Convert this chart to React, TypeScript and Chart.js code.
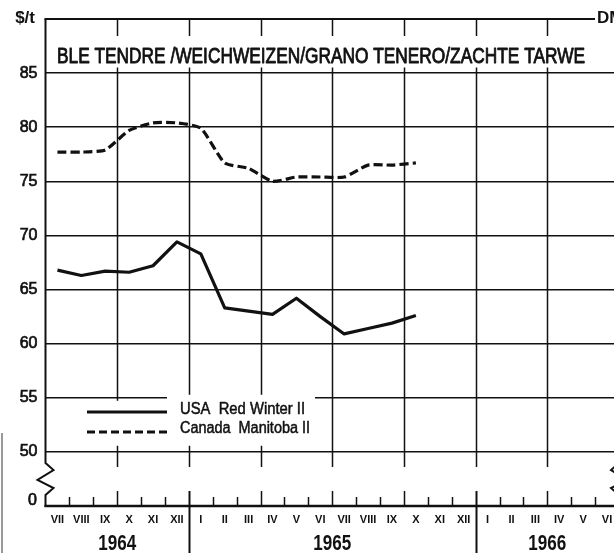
import { useEffect, useRef } from "react";
import { Chart, registerables } from "chart.js";

Chart.register(...registerables);

// Months from July 1964 to June 1966 (roman numerals as printed under the axis)
const months = [
  "VII", "VIII", "IX", "X", "XI", "XII",
  "I", "II", "III", "IV", "V", "VI", "VII", "VIII", "IX", "X", "XI", "XII",
  "I", "II", "III", "IV", "V", "VI",
];
const years = ["1964", "1965", "1966"];

// Monthly prices in $/t, July 1964 – October 1965
const usaRedWinter = [66.8, 66.3, 66.7, 66.6, 67.2, 69.4, 68.3, 63.3, 63.0, 62.7, 64.2, 62.5, 60.9, 61.4, 61.9, 62.6];
const canadaManitoba = [77.7, 77.7, 77.9, 79.7, 80.4, 80.4, 79.9, 76.7, 76.2, 75.0, 75.4, 75.4, 75.4, 76.5, 76.5, 76.7];

const yTicks = [50, 55, 60, 65, 70, 75, 80, 85];
const yBreakValue = 45; // the broken axis bottom stands for 0
const yTop = 90;

const title = "BLE TENDRE /WEICHWEIZEN/GRANO TENERO/ZACHTE TARWE";
const legendNames = ["USA  Red Winter II", "Canada  Manitoba II"];

const FONT = "'Liberation Sans', Arial, sans-serif";
const INK = "#111";

// text squeezed or stretched to a given width, with an optional outline to thicken strokes
function fitText(
  ctx: CanvasRenderingContext2D,
  text: string,
  x: number,
  baseline: number,
  width: number,
  font: string,
  align: "left" | "center" | "right",
  weight = 0
) {
  ctx.font = font;
  ctx.textAlign = "left";
  ctx.textBaseline = "alphabetic";
  const w = ctx.measureText(text).width;
  const s = width / w;
  const x0 = align === "left" ? x : align === "center" ? x - width / 2 : x - width;
  ctx.save();
  ctx.translate(x0, baseline);
  ctx.scale(s, 1);
  ctx.fillText(text, 0, 0);
  if (weight > 0) {
    ctx.lineWidth = weight;
    ctx.lineJoin = "round";
    ctx.strokeText(text, 0, 0);
  }
  ctx.restore();
}

const decor = {
  id: "decor",
  beforeDatasetsDraw(chart: any) {
    const { ctx, chartArea: a, scales } = chart;
    const x = scales.x;
    const y = scales.y;
    const L = a.left;
    const top = a.top;
    const axisY = y.getPixelForValue(yBreakValue);
    const y50 = y.getPixelForValue(50);
    const y55 = y.getPixelForValue(55);
    ctx.save();
    ctx.strokeStyle = INK;
    ctx.fillStyle = INK;

    // quarterly vertical grid lines, stopping just below the 50 line
    ctx.lineWidth = 1.5;
    for (let k = 3; k <= months.length; k += 3) {
      const px = Math.round(x.getPixelForValue(k)) + 0.5;
      ctx.beginPath();
      ctx.moveTo(px, top);
      ctx.lineTo(px, y50 + 15);
      ctx.stroke();
    }

    // white panels behind the title and the legend
    ctx.fillStyle = "#fff";
    ctx.fillRect(L + 1.5, 36, a.right - L, 31.5);
    ctx.fillRect(70, y55 + 3, 245, 45);
    ctx.fillRect(167, y55 - 3, 148, 7);
    ctx.fillStyle = INK;

    // title
    fitText(ctx, title, 57, 63, 528, `22px ${FONT}`, "left", 0.9);

    // top frame line
    ctx.lineWidth = 2;
    ctx.beginPath();
    ctx.moveTo(L - 1, top);
    ctx.lineTo(595, top);
    ctx.stroke();

    // left frame with axis break
    ctx.beginPath();
    ctx.moveTo(L, top);
    ctx.lineTo(L, 463);
    ctx.lineTo(L + 8, 470);
    ctx.lineTo(L - 8, 480);
    ctx.lineTo(L + 8, 488);
    ctx.lineTo(L, 495);
    ctx.lineTo(L, axisY + 1);
    ctx.stroke();

    // right frame break
    const R = a.right;
    ctx.beginPath();
    ctx.moveTo(R, 463);
    ctx.lineTo(R - 8, 470);
    ctx.lineTo(R + 8, 480);
    ctx.lineTo(R - 8, 488);
    ctx.lineTo(R, 495);
    ctx.stroke();

    // time axis
    ctx.lineWidth = 2.5;
    ctx.beginPath();
    ctx.moveTo(L - 1, axisY);
    ctx.lineTo(a.right, axisY);
    ctx.stroke();

    // month ticks, quarter ticks and year dividers
    for (let k = 1; k <= months.length; k++) {
      const px = Math.round(x.getPixelForValue(k)) + 0.5;
      const isYear = k < months.length && months[k] === "I";
      ctx.beginPath();
      if (isYear) {
        ctx.lineWidth = 2;
        ctx.moveTo(px, axisY - 15);
        ctx.lineTo(px, 553);
      } else {
        ctx.lineWidth = 1.5;
        ctx.moveTo(px, axisY - (k % 3 === 0 ? 15 : 9));
        ctx.lineTo(px, axisY);
      }
      ctx.stroke();
    }

    // month labels
    ctx.font = `bold 11px ${FONT}`;
    ctx.textAlign = "center";
    ctx.textBaseline = "alphabetic";
    months.forEach((m, i) => {
      ctx.fillText(m, x.getPixelForValue(i + 0.5), 523);
    });

    // year labels centred on each year's span of months
    const starts = [0];
    months.forEach((m, i) => {
      if (i > 0 && m === "I") starts.push(i);
    });
    years.forEach((yr, j) => {
      const s = starts[j];
      const e = j + 1 < starts.length ? starts[j + 1] : months.length;
      fitText(ctx, yr, x.getPixelForValue((s + e) / 2), 550, 38, `bold 22px ${FONT}`, "center");
    });

    // unit and broken-axis zero
    ctx.font = `bold 17px ${FONT}`;
    ctx.textAlign = "right";
    ctx.fillText("$/t", 35, 23);
    ctx.textAlign = "left";
    ctx.fillText("DM", 597, 23);
    ctx.font = `16px ${FONT}`;
    ctx.textAlign = "right";
    ctx.lineWidth = 0.7;
    ctx.fillText("0", 37, 505);
    ctx.strokeText("0", 37, 505);

    // legend
    ctx.lineWidth = 3;
    ctx.beginPath();
    ctx.moveTo(87, 412);
    ctx.lineTo(167, 412);
    ctx.stroke();
    ctx.setLineDash([8, 4]);
    ctx.beginPath();
    ctx.moveTo(87, 432);
    ctx.lineTo(167, 432);
    ctx.stroke();
    ctx.setLineDash([]);
    fitText(ctx, legendNames[0], 180, 414, 125, `16px ${FONT}`, "left", 0.5);
    fitText(ctx, legendNames[1], 180, 433, 130, `16px ${FONT}`, "left", 0.5);

    // edge of the page on the left
    ctx.strokeStyle = "#999";
    ctx.lineWidth = 2;
    ctx.beginPath();
    ctx.moveTo(2, 433);
    ctx.lineTo(2, 553);
    ctx.stroke();

    ctx.restore();
  },
};

export default function App() {
  const ref = useRef<HTMLCanvasElement | null>(null);

  useEffect(() => {
    if (!ref.current) return;
    const toPoints = (vals: number[]) => vals.map((v, i) => ({ x: i + 0.5, y: v }));
    const chart = new Chart(ref.current, {
      type: "line",
      data: {
        datasets: [
          {
            label: legendNames[0],
            data: toPoints(usaRedWinter),
            borderColor: INK,
            borderWidth: 3.2,
            pointRadius: 0,
            tension: 0,
            borderJoinStyle: "round",
          },
          {
            label: legendNames[1],
            data: toPoints(canadaManitoba),
            borderColor: INK,
            borderWidth: 3.2,
            borderDash: [9, 4],
            pointRadius: 0,
            tension: 0.2,
          },
        ],
      },
      options: {
        animation: false,
        responsive: false,
        devicePixelRatio: 1,
        layout: { padding: { top: 19, bottom: 47, left: 0, right: 0 } },
        plugins: { legend: { display: false }, tooltip: { enabled: false } },
        scales: {
          x: {
            type: "linear",
            min: 0,
            max: months.length,
            display: false,
          },
          y: {
            type: "linear",
            min: yBreakValue,
            max: yTop,
            afterFit: (scale: any) => {
              scale.width = 45.5;
            },
            afterBuildTicks: (scale: any) => {
              scale.ticks = [yBreakValue, ...yTicks, yTop].map((v) => ({ value: v }));
            },
            ticks: {
              padding: 8,
              color: INK,
              font: { family: FONT, size: 16 },
              textStrokeColor: INK,
              textStrokeWidth: 0.7,
              callback: (v: any) => (yTicks.includes(Number(v)) ? String(v) : ""),
            },
            grid: {
              drawTicks: false,
              lineWidth: 1.5,
              color: (c: any) =>
                c.tick && yTicks.includes(c.tick.value) ? INK : "rgba(0,0,0,0)",
            },
            border: { display: false },
          },
        },
      },
      plugins: [decor],
    });
    return () => chart.destroy();
  }, []);

  return (
    <div
      style={{
        position: "absolute",
        left: 0,
        top: 0,
        width: 614,
        height: 553,
        overflow: "hidden",
        background: "#fff",
      }}
    >
      <canvas ref={ref} width={619} height={553} style={{ display: "block" }} />
    </div>
  );
}
